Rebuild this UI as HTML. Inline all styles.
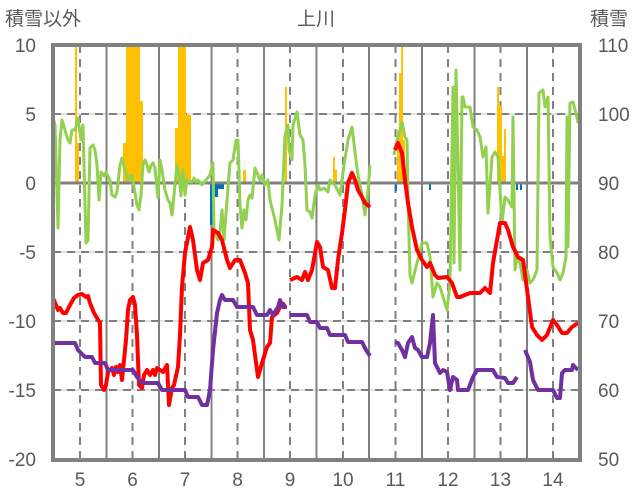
<!DOCTYPE html>
<html><head><meta charset="utf-8"><style>
html,body{margin:0;padding:0;background:#fff;}
svg{display:block;font-family:"Liberation Sans","Noto Sans CJK JP",sans-serif;}
</style></head><body>
<svg width="636" height="501" viewBox="0 0 636 501" xmlns="http://www.w3.org/2000/svg">
<rect width="636" height="501" fill="#fff"/>
<!-- horizontal dashed grid -->
<g>
<line x1="53" x2="580" y1="114" y2="114" stroke="#d9d9d9" stroke-width="1.5"/>
<line x1="53" x2="580" y1="252" y2="252" stroke="#d9d9d9" stroke-width="1.5"/>
<line x1="53" x2="580" y1="321" y2="321" stroke="#d9d9d9" stroke-width="1.5"/>
<line x1="53" x2="580" y1="390" y2="390" stroke="#d9d9d9" stroke-width="1.5"/>
<g stroke="#808080" stroke-width="2" stroke-dasharray="8,6">
<line x1="53" x2="580" y1="114" y2="114"/>
<line x1="53" x2="580" y1="252" y2="252"/>
<line x1="53" x2="580" y1="321" y2="321"/>
<line x1="53" x2="580" y1="390" y2="390"/>
</g>
</g>
<!-- vertical grid -->
<g stroke="#808080" stroke-width="2" stroke-dasharray="8,6">
<line x1="80" x2="80" y1="45" y2="460"/>
<line x1="132.5" x2="132.5" y1="45" y2="460"/>
<line x1="185" x2="185" y1="45" y2="460"/>
<line x1="237.5" x2="237.5" y1="45" y2="460"/>
<line x1="290" x2="290" y1="45" y2="460"/>
<line x1="343" x2="343" y1="45" y2="460"/>
<line x1="395.5" x2="395.5" y1="45" y2="460"/>
<line x1="448" x2="448" y1="45" y2="460"/>
<line x1="500.5" x2="500.5" y1="45" y2="460"/>
<line x1="553" x2="553" y1="45" y2="460"/>
</g>
<g stroke="#808080" stroke-width="2">
<line x1="106.5" x2="106.5" y1="45" y2="460"/>
<line x1="159" x2="159" y1="45" y2="460"/>
<line x1="211.5" x2="211.5" y1="45" y2="460"/>
<line x1="264" x2="264" y1="45" y2="460"/>
<line x1="316.5" x2="316.5" y1="45" y2="460"/>
<line x1="369" x2="369" y1="45" y2="460"/>
<line x1="422" x2="422" y1="45" y2="460"/>
<line x1="474.5" x2="474.5" y1="45" y2="460"/>
<line x1="527" x2="527" y1="45" y2="460"/>
</g>
<!-- orange bars -->
<g fill="#ffc000">
<rect x="75" y="45" width="2" height="138"/><rect x="77" y="143" width="2" height="40"/>
<rect x="123" y="143" width="3" height="40"/><rect x="126" y="45" width="14" height="138"/><rect x="140" y="101" width="3" height="82"/>
<rect x="175" y="128" width="3" height="55"/><rect x="178" y="45" width="8" height="138"/><rect x="186" y="115" width="5" height="68"/>
<rect x="243" y="170" width="3" height="13"/>
<rect x="285" y="87" width="2" height="96"/>
<rect x="333" y="157" width="2" height="26"/><rect x="335" y="170" width="2" height="13"/>
<rect x="397" y="130" width="2" height="53"/><rect x="399" y="73" width="2" height="110"/><rect x="401" y="45" width="2" height="138"/><rect x="403" y="140" width="2" height="43"/>
<rect x="497" y="87" width="2" height="96"/><rect x="499" y="106" width="3" height="77"/><rect x="502" y="156" width="2" height="27"/><rect x="504" y="129" width="2" height="54"/>
</g>
<!-- blue bars -->
<g fill="#0070c0">
<rect x="210" y="183" width="3" height="42"/><rect x="213" y="183" width="5" height="14"/><rect x="218" y="183" width="6" height="6"/>
<rect x="395" y="183" width="2" height="8"/><rect x="407" y="183" width="2" height="6"/><rect x="429" y="183" width="2" height="7"/>
<rect x="516" y="183" width="2" height="7"/><rect x="520" y="183" width="2" height="7"/>
</g>
<!-- zero line -->
<line x1="53" x2="580" y1="183" y2="183" stroke="#808080" stroke-width="3"/>
<!-- green -->
<g fill="none" stroke="#92d050" stroke-width="3" stroke-linejoin="round">
<polyline points="53,117 55,125 58,228 60,140 62,120 65,130 68,140 70,143 72,130 75,130 78,118 81,140 83,125 86,243 88,240 90,148 93,145 95,150 97,165 99,200 101,172 104,176 106,172 110,180 112,195 115,197 117,192 120,165 122,158 125,170 128,180 130,176 132,175 135,193 137,205 139,210 141,195 143,165 145,160 147,165 149,172 151,165 153,163 155,168 158,198 160,160 162,170 165,190 168,200 170,203 172,215 175,185 177,165 179,175 181,196 183,170 185,195 187,180 189,182 192,182 194,178 196,182 198,180 202,185 206,180 210,175 213,163 214,230 218,240 220,232 222,210 224,240 227,200 230,163 233,160 236,140 238,140 240,205 242,228 244,210 246,220 248,200 250,195 252,198 255,168 260,180 262,175 265,185 268,180 270,200 275,220 277,230 279,240 282,205 285,135 288,125 289,150 292,160 293,125 297,112 300,135 303,140 305,165 307,210 310,212 312,218 315,195 318,185 320,190 324,188 328,192 330,180 335,185 340,195 344,165 348,140 352,127 356,160 358,175 362,195 365,215 368,190 370,165"/>
<polyline points="394,155 397,140 400,130 402,122 405,137 407,140 408,200 410,275 412,283 417,263 422,243 427,243 430,257 433,297 437,283 440,287 447,310 450,283 453,87 454,263 456,70 458,163 460,270 462,97 463,97 465,107 470,107 473,127 477,130 480,137 483,157 486,147 488,213 492,157 495,152 498,157 502,223 505,197 508,200 512,207 513,117 515,270 517,257 520,263 523,280 527,270 530,283 533,280 537,270 539,93 543,90 545,107 548,97 550,237 553,267 557,273 560,280 563,273 566,257 567,117 568,247 570,103 573,102 577,117 578,123"/>
</g>
<!-- red -->
<g fill="none" stroke="#ff0000" stroke-width="4" stroke-linejoin="round">
<polyline points="53,298 56,305 58,310 60,308 63,313 66,313 70,305 74,298 78,295 82,294 86,297 88,296 90,303 94,313 97,318 100,323 101,385 104,390 106,385 108,372 110,370 112,368 114,375 116,367 118,372 120,365 122,380 124,360 126,340 128,310 130,300 133,297 135,305 137,335 139,385 142,388 144,375 147,370 150,375 153,370 155,375 157,368 163,372 167,365 169,405 172,388 174,385 178,367 180,335 182,287 185,253 190,227 193,240 197,270 200,280 203,263 208,260 212,247 213,230 218,233 222,240 227,260 230,268 235,260 240,260 245,273 248,283 250,330 253,340 258,377 262,363 267,347 270,343 272,317 277,313 280,307 285,303"/>
<polyline points="290,280 297,277 302,280 305,272 308,280 312,270 317,242 320,247 323,267 328,270 332,288 335,288 338,260 342,233 345,210 348,183 352,173 355,180 358,190 362,197 365,203 370,207"/>
<polyline points="395,150 398,143 402,153 405,180 408,203 412,227 417,250 422,260 427,267 430,263 435,275 438,278 447,277 452,283 457,297 460,297 465,295 470,293 480,293 485,288 490,293 493,263 500,223 505,223 508,230 513,247 518,257 523,260 528,297 532,327 537,335 542,340 547,335 553,320 557,325 562,333 567,333 572,327 578,323"/>
</g>
<!-- purple -->
<g fill="none" stroke="#7030a0" stroke-width="4" stroke-linejoin="round">
<polyline points="53,343 75,343 78,350 85,357 92,357 95,363 105,363 108,370 133,370 137,377 142,383 158,383 162,390 185,390 188,397 198,397 202,405 207,405 210,390 213,350 217,313 220,300 222,295 225,300 233,300 237,307 253,307 257,315 267,315 270,310 273,315 278,307 280,300 283,307 287,307"/>
<polyline points="290,315 307,315 310,322 317,322 320,328 327,328 330,335 345,335 348,342 362,342 366,350 370,356"/>
<polyline points="395,342 398,343 402,350 405,357 408,343 412,337 415,348 418,350 422,357 427,357 430,343 433,315 435,363 440,373 443,370 447,372 450,390 453,377 457,380 458,390 468,390 473,377 477,370 493,370 497,377 505,378 508,383 513,383 517,377"/>
<polyline points="525,350 530,362 533,380 538,390 553,390 557,398 560,398 562,373 565,370 572,370 573,365 578,370"/>
</g>
<!-- frame -->
<rect x="53" y="45" width="527" height="415" fill="none" stroke="#808080" stroke-width="4"/>
<!-- labels -->
<g fill="#595959" font-size="19">
<text x="5" y="25">積雪以外</text>
<text x="316" y="25" text-anchor="middle">上川</text>
<text x="590" y="25">積雪</text>
</g>
<g fill="#595959" font-size="19" text-anchor="end">
<text x="36" y="52">10</text>
<text x="36" y="121">5</text>
<text x="36" y="190">0</text>
<text x="36" y="259">-5</text>
<text x="36" y="328">-10</text>
<text x="36" y="397">-15</text>
<text x="36" y="466">-20</text>
</g>
<g fill="#595959" font-size="19">
<text x="598" y="52">110</text>
<text x="598" y="121">100</text>
<text x="598" y="190">90</text>
<text x="598" y="259">80</text>
<text x="598" y="328">70</text>
<text x="598" y="397">60</text>
<text x="598" y="466">50</text>
</g>
<g fill="#595959" font-size="19" text-anchor="middle">
<text x="80" y="486">5</text>
<text x="132.5" y="486">6</text>
<text x="185" y="486">7</text>
<text x="237.5" y="486">8</text>
<text x="290" y="486">9</text>
<text x="343" y="486">10</text>
<text x="395.5" y="486">11</text>
<text x="448" y="486">12</text>
<text x="500.5" y="486">13</text>
<text x="553" y="486">14</text>
</g>
</svg>
</body></html>
